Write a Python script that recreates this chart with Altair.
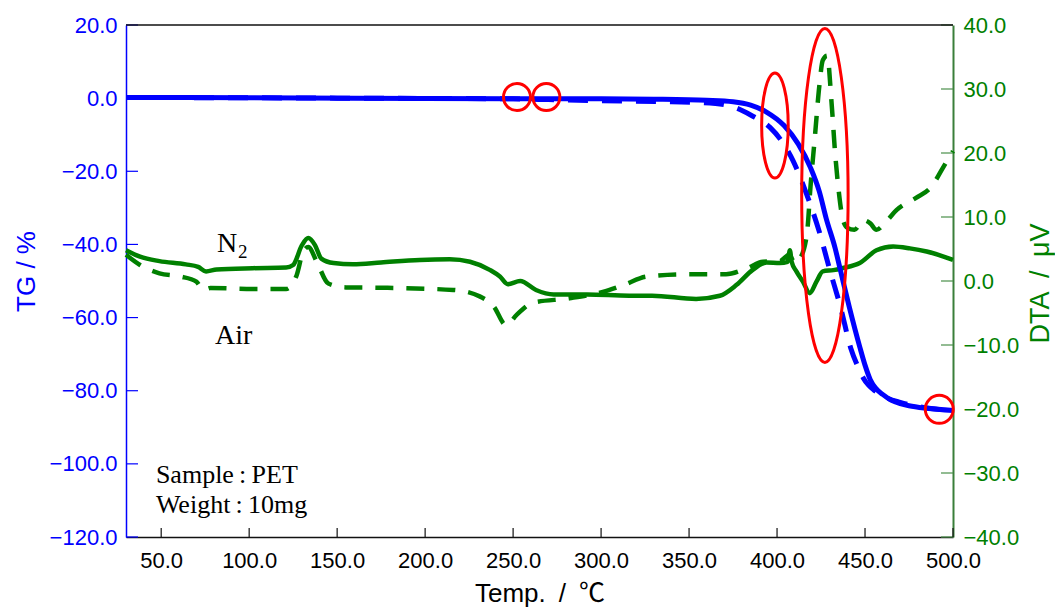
import altair as alt
import pandas as pd

# ---------------- data ----------------
# TG (%) - N2 (solid) and Air (dashed)
tg_temp_n2 = [30, 100, 200, 300, 330, 360, 375, 385, 394, 404, 412, 419, 424, 428, 433,
              436, 441, 447, 450, 453, 456, 460, 465, 470, 475, 485, 500]
tg_n2 = [0.2, 0.1, -0.1, -0.2, -0.3, -0.6, -1.0, -1.9, -3.8, -7.5, -12.5, -19, -25.5, -33, -41,
         -47, -57, -68, -73, -77, -79.3, -81.0, -82.6, -83.5, -84.1, -84.8, -85.4]

tg_temp_air = [30, 150, 250, 270, 300, 340, 365, 377, 385, 396, 403, 409, 417, 424, 430,
               436, 442, 446, 449, 452, 455, 460, 470, 480, 490, 500]
tg_air = [0.2, 0.0, -0.2, -0.4, -0.7, -1.0, -1.5, -2.7, -4.6, -8.0, -12.0, -17.0, -26.5, -36.5, -47,
          -57, -68.5, -73.5, -76.5, -78.5, -79.8, -81.4, -83.2, -84.3, -85.0, -85.5]

# DTA (uV) - N2 (solid) and Air (dashed)
dta_temp_n2 = [30, 38, 49, 64, 71, 75.5, 81.5, 102, 121, 125, 130, 133.6, 137.4, 141, 148, 159,
               175, 197, 214, 225.5, 237, 242.5, 247, 254, 263, 273, 292, 316, 329, 354, 367.5,
               377, 386, 394, 401.6, 406, 407.3, 408.3, 411, 414.7, 418.6, 422.4, 426, 432, 437,
               447, 456.5, 466, 475.5, 485, 500]
dta_n2 = [4.8, 3.8, 3.1, 2.6, 2.2, 1.5, 1.8, 2.0, 2.1, 2.5, 5.6, 6.7, 5.6, 3.5, 2.8, 2.6,
          2.9, 3.3, 3.4, 3.0, 1.7, 0.7, -0.5, 0.0, -1.4, -2.1, -2.1, -2.3, -2.3, -2.8, -2.3,
          -0.6, 1.7, 2.9, 2.8, 3.0, 4.8, 3.0, 1.5, -0.1, -1.9, -0.1, 1.5, 1.7, 2.0,
          2.8, 4.8, 5.4, 5.1, 4.6, 3.3]

dta_temp_air = [30, 38, 49, 61, 70, 74, 78, 102, 121, 127, 130.7, 133.6, 138.4, 145, 155, 175,
                216, 231, 239, 246, 252, 261, 282, 301, 313, 326, 348.5, 371, 383, 392, 401.6,
                407, 410, 413, 417, 419, 421.5, 424, 426, 428.5, 431, 433, 435, 437.5, 440,
                444, 449, 453, 456.5, 462, 468, 479, 487, 496, 500]
dta_air = [4.1, 2.5, 1.2, 0.7, -0.1, -1.4, -1.1, -1.25, -1.25, 0.9, 4.6, 5.3, 3.0, -0.4, -1.0, -1.05,
           -1.4, -2.4, -4.0, -6.9, -5.3, -3.4, -2.7, -1.7, -0.6, 0.7, 1.05, 1.05, 2.0, 3.0, 3.1,
           4.1, 2.8, 3.5, 7.4, 14.7, 22.5, 30.4, 34.5, 35.2, 27.8, 20.0, 14.2, 9.5, 8.3,
           8.0, 9.5, 9.0, 8.0, 9.3, 11.1, 13.0, 14.5, 18.5, 20.3]

# axis ticks
x_ticks = [50, 100, 150, 200, 250, 300, 350, 400, 450, 500]
tg_ticks = [-120, -100, -80, -60, -40, -20, 0, 20]
dta_ticks = [-40, -30, -20, -10, 0, 10, 20, 30, 40]

# red annotation marks (centre temp, centre TG)
circle_temp = [252.2, 268.9]
circle_tg = [0.3, 0.3]
end_circle_temp = [492.2]
end_circle_tg = [-85.1]
small_ell_temp = [398.8]
small_ell_tg = [-7.5]
big_ell_temp = [427.2]
big_ell_tg = [-26.6]

# text labels
label_n_temp, label_n_tg = [81.7], [-42.0]
label_2_temp, label_2_tg = [93.6], [-43.7]
label_air_temp, label_air_tg = [80.6], [-67.2]
info_temp = [47.0, 47.0]
info_tg = [-105.2, -113.4]
info_text = ["Sample\u2009:\u2009PET", "Weight\u2009:\u200910mg"]

# ---------------- chart ----------------
W, H = 827, 512
BLUE = "#0000ff"
GREEN = "#008000"
RED = "#ff0000"
FONT = "Liberation Sans, Noto Sans CJK JP, DejaVu Sans, sans-serif"
SERIF = "Liberation Serif, DejaVu Serif, serif"

x_scale = alt.Scale(domain=[30, 500], nice=False, zero=False)
tg_scale = alt.Scale(domain=[-120, 20], nice=False, zero=False)
dta_scale = alt.Scale(domain=[-40, 40], nice=False, zero=False)

x_axis = alt.Axis(values=x_ticks, format=".1f", title="Temp.\u2002/\u2002℃", ticks=False, grid=False,
                  domainColor="#111111", domainWidth=1.5, labelColor="#000000", labelFont=FONT,
                  labelFontSize=22, labelPadding=13, labelFlush=False, labelOverlap=False,
                  titleFont=FONT, titleFontSize=26, titleFontWeight="normal", titleColor="#000000",
                  titleY=43, titleBaseline="top")
left_axis = alt.Axis(orient="left", values=tg_ticks, format=".1f", title="TG / %", ticks=False,
                     grid=False, domainColor=BLUE, domainWidth=1.5, labelColor=BLUE, labelFont=FONT,
                     labelFontSize=22, labelPadding=9, labelFlush=False, labelOverlap=False,
                     titleFont=FONT, titleFontSize=26, titleFontWeight="normal", titleColor=BLUE,
                     titleAngle=270, titleX=-100, titleY=246, titleAlign="center",
                     titleBaseline="middle")
right_axis = alt.Axis(orient="right", values=dta_ticks, format=".1f", title="DTA\u2002/\u2002μV",
                      ticks=False, grid=False, domainColor="#3a7f3a", domainWidth=2, labelColor=GREEN,
                      labelFont=FONT, labelFontSize=22, labelPadding=10, labelFlush=False,
                      labelOverlap=False, titleFont=FONT, titleFontSize=27,
                      titleFontWeight="normal", titleColor=GREEN, titleAngle=270, titleX=87,
                      titleY=258, titleAlign="center", titleBaseline="middle")

X = lambda f: alt.X(f, scale=x_scale, axis=x_axis)
YT = lambda f: alt.Y(f, scale=tg_scale, axis=left_axis)
YD = lambda f: alt.Y(f, scale=dta_scale, axis=right_axis)

df_tg_n2 = pd.DataFrame({"temp": tg_temp_n2, "val": tg_n2})
df_tg_air = pd.DataFrame({"temp": tg_temp_air, "val": tg_air})
df_dta_n2 = pd.DataFrame({"temp": dta_temp_n2, "val": dta_n2})
df_dta_air = pd.DataFrame({"temp": dta_temp_air, "val": dta_air})

# DTA layers (drawn first, behind)
dta_n2_line = alt.Chart(df_dta_n2).mark_line(color=GREEN, strokeWidth=4.5, interpolate="monotone").encode(
    x=X("temp:Q"), y=YD("val:Q"))
dta_air_line = alt.Chart(df_dta_air).mark_line(color=GREEN, strokeWidth=4.5, interpolate="monotone",
                                               strokeDash=[18, 13]).encode(x=X("temp:Q"), y=YD("val:Q"))
dta_tick_rules = alt.Chart(pd.DataFrame({"v": dta_ticks})).mark_rule(color="#4a8f4a", strokeWidth=1.2).encode(
    y=YD("v:Q"), x=alt.value(W - 12), x2=alt.value(W))
dta_layer = alt.layer(dta_n2_line, dta_air_line, dta_tick_rules)

# TG layers
tg_n2_line = alt.Chart(df_tg_n2).mark_line(color=BLUE, strokeWidth=5, interpolate="monotone").encode(
    x=X("temp:Q"), y=YT("val:Q"))
tg_air_line = alt.Chart(df_tg_air).mark_line(color=BLUE, strokeWidth=5, interpolate="monotone",
                                             strokeDash=[20, 14]).encode(x=X("temp:Q"), y=YT("val:Q"))
tg_tick_rules = alt.Chart(pd.DataFrame({"v": tg_ticks})).mark_rule(color=BLUE, strokeWidth=1.2).encode(
    y=YT("v:Q"), x=alt.value(0), x2=alt.value(12))
x_tick_rules = alt.Chart(pd.DataFrame({"v": x_ticks})).mark_rule(color="#111111", strokeWidth=1.2).encode(
    x=X("v:Q"), y=alt.value(H - 9), y2=alt.value(H))
top_border = alt.Chart(pd.DataFrame({"v": [0]})).mark_rule(color="#111111", strokeWidth=1.5).encode(
    x=alt.value(0), x2=alt.value(W), y=alt.value(0))

circles = alt.Chart(pd.DataFrame({"temp": circle_temp, "val": circle_tg})).mark_point(
    shape="circle", size=729, filled=False, stroke=RED, strokeWidth=3, opacity=1).encode(
    x=X("temp:Q"), y=YT("val:Q"))
end_circle = alt.Chart(pd.DataFrame({"temp": end_circle_temp, "val": end_circle_tg})).mark_point(
    shape="circle", size=784, filled=False, stroke=RED, strokeWidth=3, opacity=1).encode(
    x=X("temp:Q"), y=YT("val:Q"))
small_ell = alt.Chart(pd.DataFrame({"temp": small_ell_temp, "val": small_ell_tg})).mark_point(
    shape="M -0.253 0 A 0.253 1 0 1 0 0.253 0 A 0.253 1 0 1 0 -0.253 0 Z",
    size=105 ** 2, filled=False, stroke=RED, strokeWidth=3, opacity=1).encode(
    x=X("temp:Q"), y=YT("val:Q"))
big_ell = alt.Chart(pd.DataFrame({"temp": big_ell_temp, "val": big_ell_tg})).mark_point(
    shape="M -0.139 0 A 0.139 1 0 1 0 0.139 0 A 0.139 1 0 1 0 -0.139 0 Z",
    size=334 ** 2, filled=False, stroke=RED, strokeWidth=3, opacity=1).encode(
    x=X("temp:Q"), y=YT("val:Q"))

txt_n = alt.Chart(pd.DataFrame({"temp": label_n_temp, "val": label_n_tg, "t": ["N"]})).mark_text(
    align="left", baseline="alphabetic", font=SERIF, fontSize=28, color="#000000").encode(
    x=X("temp:Q"), y=YT("val:Q"), text="t:N")
txt_2 = alt.Chart(pd.DataFrame({"temp": label_2_temp, "val": label_2_tg, "t": ["2"]})).mark_text(
    align="left", baseline="alphabetic", font=SERIF, fontSize=19, color="#000000").encode(
    x=X("temp:Q"), y=YT("val:Q"), text="t:N")
txt_air = alt.Chart(pd.DataFrame({"temp": label_air_temp, "val": label_air_tg, "t": ["Air"]})).mark_text(
    align="left", baseline="alphabetic", font=SERIF, fontSize=28, color="#000000").encode(
    x=X("temp:Q"), y=YT("val:Q"), text="t:N")
txt_info = alt.Chart(pd.DataFrame({"temp": info_temp, "val": info_tg, "t": info_text})).mark_text(
    align="left", baseline="alphabetic", font=SERIF, fontSize=26, color="#000000").encode(
    x=X("temp:Q"), y=YT("val:Q"), text="t:N")

tg_layer = alt.layer(tg_air_line, tg_n2_line, tg_tick_rules, x_tick_rules, top_border,
                     circles, end_circle, small_ell, big_ell, txt_n, txt_2, txt_air, txt_info)

chart = alt.layer(dta_layer, tg_layer).resolve_scale(y="independent").properties(
    width=W, height=H,
    autosize=alt.AutoSizeParams(type="none"),
    padding={"left": 118, "top": 17, "right": 102, "bottom": 70},
    background="white",
).configure_view(stroke=None)

chart.save("out.html", embed_options={"renderer": "svg", "actions": False})
